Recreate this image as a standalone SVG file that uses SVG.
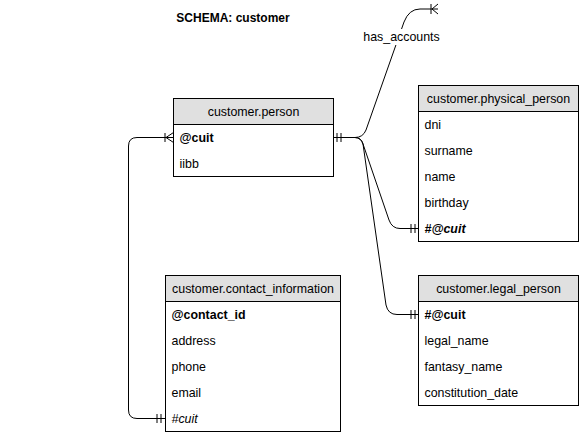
<svg xmlns="http://www.w3.org/2000/svg" width="579" height="435" viewBox="0 0 579 435">
<style>
text{font-family:"Liberation Sans",Arial,sans-serif;font-size:12.4px;fill:#000}
.t{font-size:12px}
.box{fill:#fff;stroke:#000;stroke-width:1}
.hdr{fill:#e0e0e0;stroke:#000;stroke-width:1}
.h{text-anchor:middle}
.b{font-weight:bold}
.i{font-style:italic}
.ln{fill:none;stroke:#000;stroke-width:1}
</style>
<rect width="579" height="435" fill="#fff"/>
<text x="233" y="22" class="h b t">SCHEMA: customer</text>
<g id="connectors" class="ln">
<path d="M333.5 137.5 L355 137.5 Q363 137.5 366 130 L404 22 Q409 9 420 9 L438 9"/>
<path d="M431 4 L431 14 M432 9 L438 4 M432 9 L438 14"/>
<path d="M337 133 L337 142 M341 133 L341 142"/>
<path d="M333.5 137.5 L355 137.5 Q361 137.5 363 144 L389 220 Q392 228.5 400 228.5 L418.5 228.5"/>
<path d="M411 224 L411 233 M415 224 L415 233"/>
<path d="M355 137.5 Q361 137.5 363 144 L386 305 Q388 314.5 397 314.5 L418.5 314.5"/>
<path d="M411 310 L411 319 M415 310 L415 319"/>
<path d="M165.5 418.5 L137 418.5 Q128.5 418.5 128.5 410 L128.5 146 Q128.5 137.5 137 137.5 L173.5 137.5"/>
<path d="M157 414 L157 423 M161 414 L161 423"/>
<path d="M165 133 L165 142 M166 137.5 L173.5 132.5 M166 137.5 L173.5 142.5"/>
</g>
<rect x="364" y="29" width="76" height="16" fill="#fff"/>
<text x="401.5" y="41" class="h">has_accounts</text>
<g id="person">
<rect x="173.5" y="98.5" width="160" height="78" class="box"/>
<rect x="173.5" y="98.5" width="160" height="26" class="hdr"/>
<text x="253.5" y="116" class="h">customer.person</text>
<text x="179.5" y="142" class="b">@cuit</text>
<text x="179.5" y="168">iibb</text>
</g>
<g id="physical_person">
<rect x="418.5" y="85.5" width="160" height="156" class="box"/>
<rect x="418.5" y="85.5" width="160" height="26" class="hdr"/>
<text x="498.5" y="103" class="h">customer.physical_person</text>
<text x="424.5" y="129">dni</text>
<text x="424.5" y="155">surname</text>
<text x="424.5" y="181">name</text>
<text x="424.5" y="207">birthday</text>
<text x="424.5" y="233" class="b i">#@cuit</text>
</g>
<g id="contact_information">
<rect x="165.5" y="275.5" width="175" height="156" class="box"/>
<rect x="165.5" y="275.5" width="175" height="26" class="hdr"/>
<text x="253" y="293" class="h">customer.contact_information</text>
<text x="171.5" y="319" class="b">@contact_id</text>
<text x="171.5" y="345">address</text>
<text x="171.5" y="371">phone</text>
<text x="171.5" y="397">email</text>
<text x="171.5" y="423" class="i">#cuit</text>
</g>
<g id="legal_person">
<rect x="418.5" y="275.5" width="160" height="130" class="box"/>
<rect x="418.5" y="275.5" width="160" height="26" class="hdr"/>
<text x="498.5" y="293" class="h">customer.legal_person</text>
<text x="424.5" y="319" class="b">#@cuit</text>
<text x="424.5" y="345">legal_name</text>
<text x="424.5" y="371">fantasy_name</text>
<text x="424.5" y="397">constitution_date</text>
</g>
</svg>
